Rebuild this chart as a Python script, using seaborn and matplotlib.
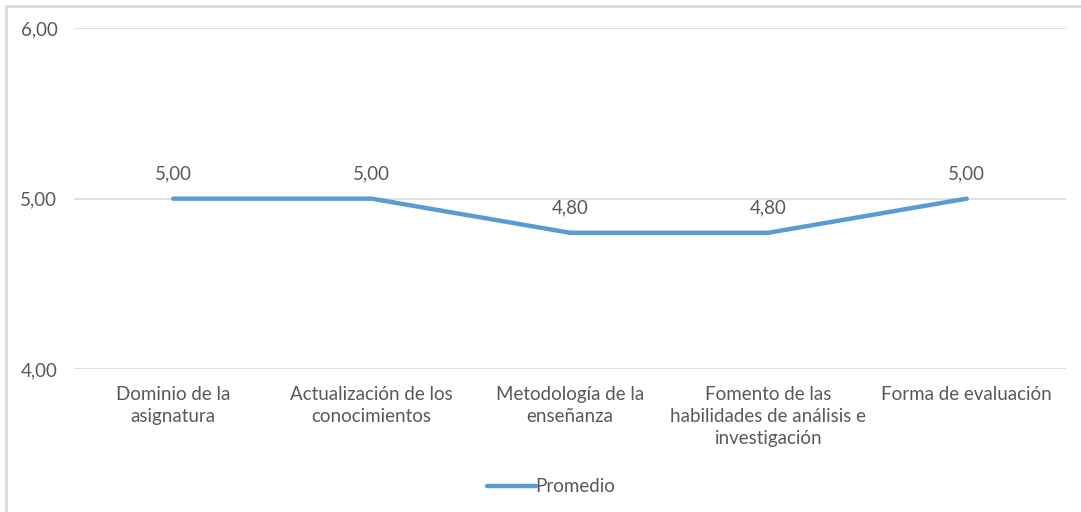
import pandas as pd
import seaborn as sns
import matplotlib.pyplot as plt
from matplotlib.patches import Rectangle

CATEGORIES = [
    'Dominio de la\nasignatura',
    'Actualización de los\nconocimientos',
    'Metodología de la\nenseñanza',
    'Fomento de las\nhabilidades de análisis e\ninvestigación',
    'Forma de evaluación',
]
PROMEDIO = [5.00, 5.00, 4.80, 4.80, 5.00]
Y_TICKS = [4.0, 5.0, 6.0]

LINE_COLOR = '#5B9BD5'
TEXT_COLOR = '#595959'
GRID_COLOR = '#D9D9D9'
FS = 13.5


def fmt(v):
    return f'{v:.2f}'.replace('.', ',')


def main():
    sns.set_theme(style='white')
    plt.rcParams['font.family'] = ['Lato', 'DejaVu Sans']
    plt.rcParams['font.size'] = FS

    df = pd.DataFrame({'x': range(len(CATEGORIES)), 'valor': PROMEDIO,
                       'serie': 'Promedio'})

    fig = plt.figure(figsize=(10.81, 5.12), dpi=100)
    ax = fig.add_axes([0.0685, 0.279, 0.9175, 0.666])
    sns.lineplot(data=df, x='x', y='valor', hue='serie', ax=ax,
                 palette=[LINE_COLOR], linewidth=3.2, legend=False,
                 solid_capstyle='round')

    ax.set_xlim(-0.5, len(CATEGORIES) - 0.5)
    ax.set_ylim(Y_TICKS[0], Y_TICKS[-1])
    ax.set_yticks(Y_TICKS)
    ax.set_yticklabels([fmt(t) for t in Y_TICKS], color=TEXT_COLOR)
    ax.set_xticks(range(len(CATEGORIES)))
    ax.set_xticklabels(CATEGORIES, color=TEXT_COLOR, linespacing=1.35,
                       va='top')
    ax.tick_params(axis='both', length=0, labelsize=FS)
    ax.tick_params(axis='x', pad=12)
    ax.tick_params(axis='y', pad=12)
    ax.set_xlabel('')
    ax.set_ylabel('')
    for s in ax.spines.values():
        s.set_visible(False)
    ax.yaxis.grid(True, color=GRID_COLOR, linewidth=1.2)
    ax.set_axisbelow(True)

    for i, v in enumerate(PROMEDIO):
        ax.annotate(fmt(v), (i, v), xytext=(0, 12), textcoords='offset points',
                    ha='center', va='bottom', color=TEXT_COLOR, fontsize=FS)

    handle = plt.Line2D([], [], color=LINE_COLOR, linewidth=3.2,
                        solid_capstyle='round')
    fig.legend([handle], ['Promedio'], loc='center', bbox_to_anchor=(0.51, 0.049),
               frameon=False, handlelength=2.6, handletextpad=0.0,
               labelcolor=TEXT_COLOR, fontsize=FS)

    fig.patches.append(Rectangle((6 / 1081, -0.1), 1.2, 1 - 6 / 512 + 0.1,
                                 transform=fig.transFigure, fill=False,
                                 edgecolor=GRID_COLOR, linewidth=2))

    fig.savefig('out.png', dpi=100)


if __name__ == '__main__':
    main()
